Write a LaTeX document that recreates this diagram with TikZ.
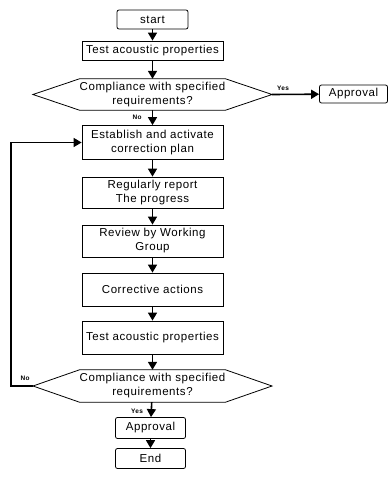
\documentclass[tikz,border=0pt]{standalone}
\usepackage{fontspec}
\setmainfont[LetterSpace=5]{Liberation Sans}
\usetikzlibrary{arrows.meta}
\begin{document}
\begin{tikzpicture}[x=1pt,y=-1pt,font=\fontsize{11.5}{14}\selectfont]
      \tikzset{
        term/.style={draw,rounded corners=2pt,line width=0.8pt,inner sep=0pt},
        proc/.style={draw,line width=0.8pt,inner sep=0pt},
        dec/.style={inner sep=0pt},
        flow/.style={draw,line width=1.6pt,-{Triangle[length=8pt,width=9pt]}},
        tag/.style={font=\fontsize{6.5}{7}\selectfont\bfseries,inner sep=1pt}}
      \useasboundingbox (0,0) rectangle (389,478);
      \def \Nodes{
        start/152.5/19.5/71/19/term/{start},
        test1/152.5/50.5/141/19/proc/{Test acoustic properties},
        dec1/152.5/94.5/140/31/dec/{Compliance with specified\\requirements?},
        app1/353.5/94/68/18/term/{Approval},
        estab/152.5/142.5/141/34/proc/{Establish and activate\\correction plan},
        report/152.5/192.5/141/31/proc/{Regularly report\\The progress},
        review/152.5/241/141/32/proc/{Review by Working\\Group},
        corr/152.5/289.5/141/33/proc/{Corrective actions},
        test2/152.5/337.5/141/33/proc/{Test acoustic properties},
        dec2/152.5/386/140/32/dec/{Compliance with specified\\requirements?},
        app2/150.5/428/70/21/term/{Approval},
        end/150.5/458.5/70/20/term/{End}}
      \def \Edges{
        start/test1,
        test1/dec1,
        dec1e/app1,
        dec1/estab,
        estab/report,
        report/review,
        review/corr,
        corr/test2,
        test2/dec2,
        dec2/app2,
        app2/end}
      \foreach \id / \x / \y / \w / \h / \s / \t in \Nodes{
        \node[\s,minimum width=\w pt,minimum height=\h pt,align=center] (\id) at (\x, \y) {\t};
      }
      % hexagon outline of the two decisions
      \foreach \id in {dec1,dec2}{
        \draw[line width=0.8pt] (\id.north west) -- (\id.north east)
          -- ([xshift=46.5pt]\id.east) coordinate (\id e)
          -- (\id.south east) -- (\id.south west)
          -- ([xshift=-46.5pt]\id.west) coordinate (\id w) -- cycle;
      }
      \foreach \x / \y in \Edges{
        \path[flow] (\x) -- (\y);
      }
      % loop back to the correction plan
      \path[flow] (dec2w) -- ++(-22,0) |- (estab.west);
      \node[tag] (yes1) at (283, 88) {Yes};
      \node[tag] (no1) at (137, 117) {No};
      \node[tag] (no2) at (25, 378) {No};
      \node[tag] (yes2) at (137, 411) {Yes};
    \end{tikzpicture}
\end{document}
